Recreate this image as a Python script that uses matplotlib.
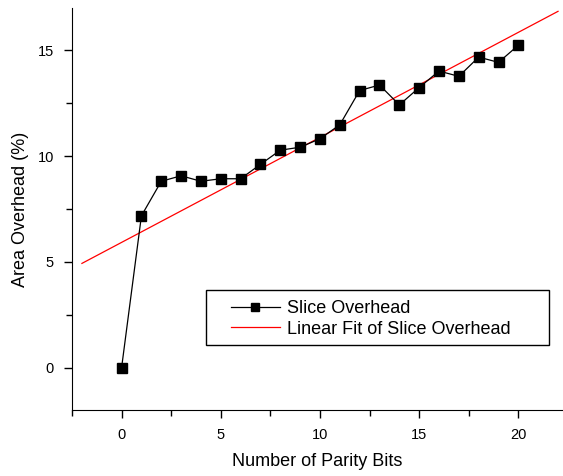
import numpy as np
import matplotlib
matplotlib.use('Agg')
import matplotlib.pyplot as plt
from matplotlib.ticker import MultipleLocator
from matplotlib.patches import Rectangle

plt.rcParams['font.family'] = ['Liberation Sans', 'DejaVu Sans']

parity_bits = np.arange(0, 21)
overhead = [0.0, 7.18, 8.81, 9.07, 8.81, 8.93, 8.93, 9.61, 10.28, 10.42, 10.82,
            11.48, 13.10, 13.36, 12.42, 13.24, 14.02, 13.77, 14.68, 14.43, 15.24]

slope, intercept = np.polyfit(parity_bits, overhead, 1)
fit_x = np.array([-2.0, 22.0])

W, H = 563, 476
fig = plt.figure(figsize=(W / 100, H / 100), dpi=100)
ax = fig.add_axes([72 / W, 1 - 410 / H, 490 / W, 402 / H])

ax.plot(fit_x, slope * fit_x + intercept, color='red', lw=0.9,
        label='Linear Fit of Slice Overhead', zorder=2)
ax.plot(parity_bits, overhead, color='black', lw=0.9, marker='s', markersize=7,
        label='Slice Overhead', zorder=3)

ax.set_xlim(-2.5, 22.2)
ax.set_ylim(-2, 17)
ax.xaxis.set_major_locator(MultipleLocator(5))
ax.xaxis.set_minor_locator(MultipleLocator(2.5))
ax.yaxis.set_major_locator(MultipleLocator(5))
ax.yaxis.set_minor_locator(MultipleLocator(2.5))
ax.tick_params(which='major', length=6, width=1, labelsize=10.5, pad=7)
ax.tick_params(which='minor', length=4, width=1)

for s in ['top', 'right']:
    ax.spines[s].set_visible(False)

ax.set_xlabel('Number of Parity Bits', fontsize=13, labelpad=8)
ax.set_ylabel('Area Overhead (%)', fontsize=13, labelpad=6)

# legend box drawn separately so padding matches the original
fig.patches.append(Rectangle((206 / W, 1 - 345 / H), 343 / W, 55 / H,
                             transform=fig.transFigure, fill=False,
                             edgecolor='black', lw=1, zorder=5))
handles, labels = ax.get_legend_handles_labels()
leg = ax.legend(handles[::-1], labels[::-1], loc='upper left',
                bbox_to_anchor=(231 / W, 1 - 300 / H),
                bbox_transform=fig.transFigure, fontsize=13,
                frameon=False, handlelength=2.7, handletextpad=0.4,
                borderpad=0, borderaxespad=0, labelspacing=0.2,
                markerscale=0.75)

fig.savefig('out.png', dpi=100)
